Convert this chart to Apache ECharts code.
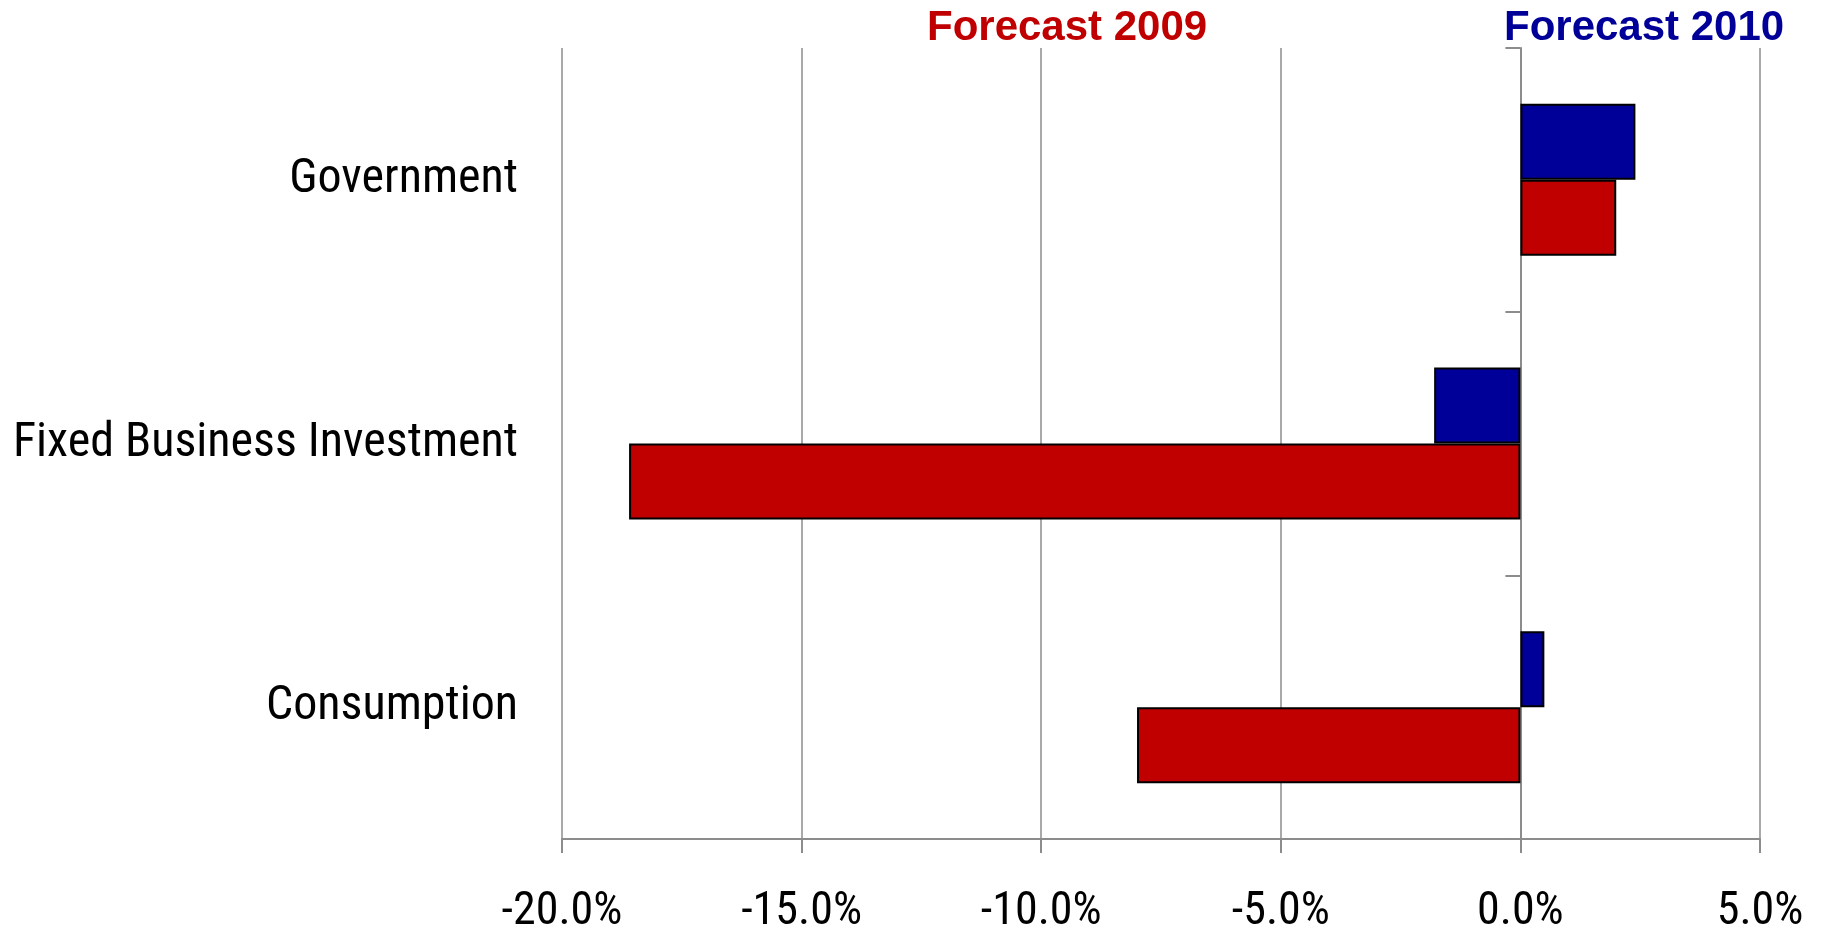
<!DOCTYPE html>
<html>
<head>
<meta charset="utf-8">
<script src="https://cdn.jsdelivr.net/npm/echarts@6/dist/echarts.min.js"></script>
<style>
html,body{margin:0;padding:0;background:#fff;}
#chart{width:1824px;height:931px;}
</style>
</head>
<body>
<div id="chart"></div>
<script>
const categories = ['Consumption', 'Fixed Business Investment', 'Government'];
const forecast2009 = [-8.0, -18.6, 2.0];
const forecast2010 = [0.5, -1.8, 2.4];
const seriesNames = ['Forecast 2009', 'Forecast 2010'];
const axisMin = -20, axisMax = 5, axisStep = 5;

const RED = '#C00000';
const BLUE = '#000099';
const GRID = '#8c8c8c';
const NARROW = "'Roboto Condensed', 'Liberation Sans Narrow', sans-serif";

const chart = echarts.init(document.getElementById('chart'));
chart.setOption({
  animation: false,
  backgroundColor: '#ffffff',
  title: [
    { text: seriesNames[0], left: 922, top: 2,
      textStyle: { color: RED, fontFamily: 'Liberation Sans, Arial, sans-serif', fontWeight: 'bold', fontSize: 42 } },
    { text: seriesNames[1], left: 1499, top: 2,
      textStyle: { color: BLUE, fontFamily: 'Liberation Sans, Arial, sans-serif', fontWeight: 'bold', fontSize: 42 } }
  ],
  grid: { left: 562, right: 64, top: 48, bottom: 92, containLabel: false, outerBoundsMode: 'none' },
  xAxis: {
    type: 'value',
    min: axisMin, max: axisMax, interval: axisStep,
    axisLine: { show: true, onZero: false, lineStyle: { color: GRID, width: 2 } },
    axisTick: { show: true, length: 14, lineStyle: { color: GRID, width: 2 } },
    splitLine: { show: true, lineStyle: { color: GRID, width: 1.5 } },
    axisLabel: {
      margin: 50,
      color: '#000',
      fontFamily: NARROW,
      fontSize: 46,
      formatter: v => v.toFixed(1) + '%'
    }
  },
  yAxis: [
    {
      type: 'category',
      data: categories,
      axisLine: { show: false, onZero: false },
      axisTick: { show: false },
      axisLabel: {
        margin: 44,
        padding: [7, 0, 0, 0],
        color: '#000',
        fontFamily: NARROW,
        fontSize: 48
      }
    },
    {
      type: 'category',
      data: categories,
      position: 'left',
      axisLine: { show: true, onZero: true, lineStyle: { color: GRID, width: 2 } },
      axisTick: { show: true, length: 15, lineStyle: { color: GRID, width: 2 } },
      axisLabel: { show: false }
    }
  ],
  series: [
    {
      name: seriesNames[1], type: 'bar', data: forecast2010, yAxisIndex: 0,
      barWidth: 76, barGap: '0%',
      itemStyle: { color: BLUE, borderColor: '#000', borderWidth: 2 }
    },
    {
      name: seriesNames[0], type: 'bar', data: forecast2009, yAxisIndex: 0,
      barWidth: 76, barGap: '0%',
      itemStyle: { color: RED, borderColor: '#000', borderWidth: 2 }
    }
  ]
});
</script>
</body>
</html>
